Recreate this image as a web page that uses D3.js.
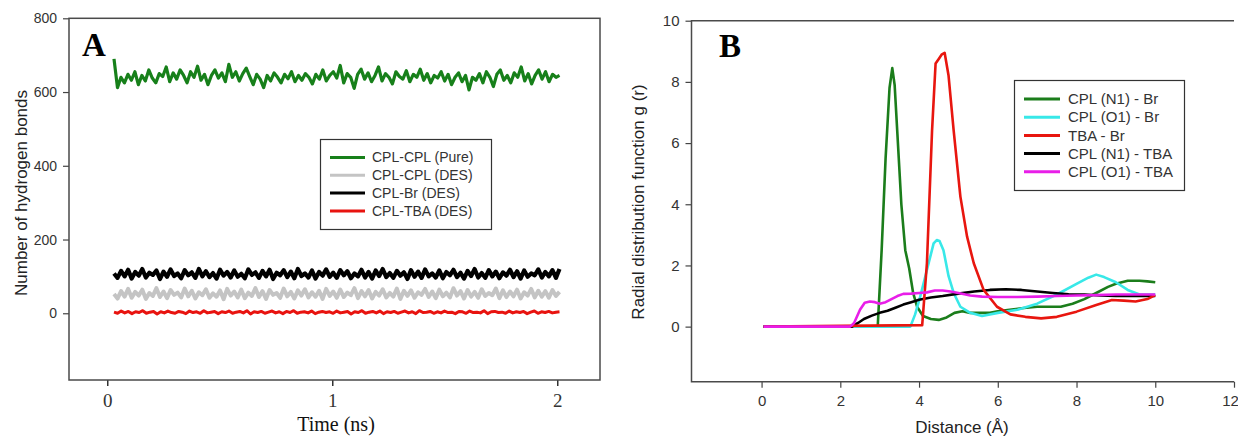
<html>
<head>
<script src="https://cdnjs.cloudflare.com/ajax/libs/d3/7.8.5/d3.min.js"></script>
<style>
  body { margin: 0; background: #fff; }
  svg { display: block; }
  .tick text { fill: #333; }
  .frame { fill: none; stroke: #4a4a4a; stroke-width: 1.5; }
  .series { fill: none; stroke-linejoin: round; }
</style>
</head>
<body>
<script>
// ---- panel A: hydrogen bonds vs time (ns) ----
var hbTimeStart = 0.03, hbTimeEnd = 2.01;
var hbTicksX = [0, 1, 2];
var hbTicksY = [0, 200, 400, 600, 800];

var hbPure = [690,612,640,625,648,632,655,620,645,630,660,638,625,650,642,668,628,652,635,660,645,625,655,640,670,632,648,620,645,660,638,652,628,675,640,655,630,650,665,642,620,648,635,612,645,630,652,640,625,648,636,655,628,645,632,650,640,622,648,635,660,630,645,655,638,672,625,650,640,610,648,662,635,652,628,645,668,630,650,640,622,655,642,635,658,628,648,640,662,632,650,625,645,638,655,630,648,620,640,652,628,645,606,640,632,650,625,655,640,615,648,660,632,645,625,652,640,668,630,650,622,645,660,635,655,628,648,640,645];
var hbCplDes = [52,40,60,45,66,42,58,48,64,39,55,47,68,44,59,41,63,50,56,43,67,46,61,40,57,49,65,42,54,45,62,38,66,48,59,43,64,41,56,47,68,44,60,39,63,50,55,42,67,46,58,40,62,48,65,43,57,45,61,39,66,47,59,42,64,44,56,49,68,41,60,46,63,40,58,48,65,43,55,45,67,39,61,47,62,42,57,50,66,44,59,41,64,46,56,43,68,48,60,40,63,45,58,42,65,47,55,49,67,41,62,44,59,46,64,40,57,48,66,43,61,45,60,42,63,47,58];
var hbBrDes = [108,96,115,100,118,94,112,102,120,97,110,104,116,93,113,99,119,101,108,95,117,103,111,96,120,100,114,98,109,94,118,102,112,97,116,99,107,95,119,104,111,96,115,100,118,93,110,103,117,98,113,95,120,101,108,97,116,94,112,102,119,99,110,96,117,103,114,95,108,100,118,97,112,94,116,101,120,98,109,96,115,102,111,93,117,99,113,96,119,100,108,97,116,95,112,103,118,98,110,94,115,101,120,97,109,96,117,100,113,95,111,102,118,98,114,94,116,99,108,103,119,97,112,100,117,96,120];
var hbTbaDes = [3,0,6,1,5,-1,4,2,7,0,3,5,-2,4,1,6,2,0,5,3,-1,6,2,4,0,7,1,3,5,-1,4,2,6,0,3,5,1,7,-2,4,2,5,0,3,6,1,4,-1,5,2,7,0,3,4,1,6,-1,3,5,2,4,0,6,1,3,5,-2,4,2,7,0,3,5,1,6,-1,4,2,5,0,3,6,1,4,-1,7,2,3,5,0,4,1,6,2,3,-1,5,4,0,6,2,3,1,7,-1,4,5,2,3,0,6,1,4,2,5,-1,3,6,0,4,2,5,1,3,4];

var hbNames = ["CPL-CPL (Pure)", "CPL-CPL (DES)", "CPL-Br (DES)", "CPL-TBA (DES)"];
var hbColors = ["#17801a", "#c4c4c4", "#000000", "#e8130f"];

// ---- panel B: radial distribution functions ----
var rdfTicksX = [0, 2, 4, 6, 8, 10, 12];
var rdfTicksY = [0, 2, 4, 6, 8, 10];

var n1BrR = [0.05,2.95,3.05,3.15,3.25,3.32,3.38,3.45,3.55,3.65,3.75,3.85,3.95,4.1,4.3,4.5,4.7,4.9,5.1,5.3,5.5,5.8,6.0,6.3,6.6,7.0,7.3,7.6,7.9,8.2,8.5,8.8,9.0,9.3,9.6,9.8,10.0];
var n1BrG = [0,0,2.5,5.5,7.8,8.45,7.9,6.3,4.0,2.5,1.9,1.1,0.65,0.35,0.25,0.22,0.3,0.45,0.5,0.45,0.45,0.45,0.5,0.55,0.6,0.65,0.65,0.65,0.75,0.9,1.1,1.3,1.4,1.5,1.5,1.48,1.45];
var o1BrR = [0.05,3.78,3.9,4.03,4.2,4.37,4.45,4.52,4.62,4.75,4.88,5.05,5.3,5.6,6.0,6.5,7.0,7.5,8.0,8.3,8.5,8.7,9.0,9.3,9.6,10.0];
var o1BrG = [0,0,0.4,0.98,1.85,2.72,2.83,2.8,2.5,1.65,1.1,0.65,0.45,0.35,0.45,0.55,0.75,1.05,1.4,1.6,1.7,1.62,1.45,1.2,1.05,1.05];
var tbaBrR = [0.05,4.08,4.2,4.33,4.42,4.5,4.58,4.65,4.75,4.88,5.05,5.22,5.39,5.64,5.98,6.32,6.7,7.1,7.5,8.0,8.5,8.9,9.2,9.5,9.8,10.0];
var tbaBrG = [0,0.05,2.07,6.4,8.6,8.75,8.9,8.95,8.2,6.4,4.25,2.94,2.07,1.2,0.65,0.4,0.32,0.27,0.32,0.49,0.71,0.87,0.85,0.82,0.9,1.03];
var n1TbaR = [0.05,2.3,2.45,2.6,2.8,3.0,3.2,3.4,3.6,3.8,4.0,4.3,4.6,5.0,5.4,5.8,6.2,6.6,7.0,7.4,7.8,8.2,8.6,9.0,9.5,10.0];
var n1TbaG = [0,0,0.12,0.25,0.36,0.45,0.52,0.62,0.72,0.8,0.88,0.95,1.0,1.08,1.15,1.2,1.22,1.2,1.15,1.1,1.06,1.05,1.02,1.0,1.0,1.0];
var o1TbaR = [0.05,2.25,2.35,2.5,2.62,2.75,2.88,3.0,3.15,3.3,3.45,3.6,3.8,4.0,4.2,4.4,4.6,4.8,5.0,5.3,5.6,6.0,6.5,7.0,7.5,8.0,8.5,9.0,9.5,10.0];
var o1TbaG = [0,0,0.12,0.55,0.78,0.82,0.8,0.75,0.8,0.9,1.0,1.07,1.08,1.1,1.12,1.18,1.18,1.15,1.1,1.02,0.98,0.97,0.97,0.98,1.0,1.02,1.03,1.05,1.05,1.05];

var rdfNames = ["CPL (N1) - Br", "CPL (O1) - Br", "TBA - Br", "CPL (N1) - TBA", "CPL (O1) - TBA"];
var rdfColors = ["#1b7d1b", "#38e8e8", "#e8160f", "#000000", "#e81ee8"];

var sans = "'Liberation Sans', Arial, sans-serif";
var serif = "'Liberation Serif', 'Times New Roman', serif";

var svg = d3.select("body").append("svg")
    .attr("width", 1238)
    .attr("height", 436);

// ================= panel A =================
var ax = d3.scaleLinear().domain([-0.17, 2.19]).range([69, 600]);
var ay = d3.scaleLinear().domain([-181, 800]).range([380, 18.3]);

var gA = svg.append("g");

gA.append("g")
    .attr("transform", "translate(0,380)")
    .call(d3.axisBottom(ax).tickValues(hbTicksX).tickFormat(d3.format("d")).tickSize(6))
    .call(function(g) {
      g.select(".domain").remove();
      g.selectAll(".tick line").attr("stroke", "#333").attr("stroke-width", 1.5);
      g.selectAll(".tick text").attr("font-family", serif).attr("font-size", 19).attr("fill", "#111")
        .attr("y", 27).attr("dy", 0);
    });

gA.append("g")
    .attr("transform", "translate(69,0)")
    .call(d3.axisLeft(ay).tickValues(hbTicksY).tickSize(6))
    .call(function(g) {
      g.select(".domain").remove();
      g.selectAll(".tick line").attr("stroke", "#444").attr("stroke-width", 1.2);
      g.selectAll(".tick text").attr("font-family", sans).attr("font-size", 14).attr("x", -12);
    });

var hbSeries = [hbPure, hbCplDes, hbBrDes, hbTbaDes];
var hbWidths = [3.2, 4, 4.2, 3];
[0, 1, 2, 3].forEach(function(k) {
  var vals = hbSeries[k];
  var n = vals.length;
  var pts = vals.map(function(v, i) {
    return [hbTimeStart + i * (hbTimeEnd - hbTimeStart) / (n - 1), v];
  });
  gA.append("path")
    .attr("class", "series")
    .attr("stroke", hbColors[k])
    .attr("stroke-width", hbWidths[k])
    .attr("d", d3.line().x(function(d) { return ax(d[0]); }).y(function(d) { return ay(d[1]); })(pts));
});

gA.append("rect").attr("class", "frame")
    .attr("x", 69).attr("y", 18.3).attr("width", 531).attr("height", 361.7);

gA.append("text").text("A")
    .attr("x", 82).attr("y", 56)
    .attr("font-family", serif).attr("font-weight", "bold").attr("font-size", 33);

gA.append("text").text("Time (ns)")
    .attr("x", 336).attr("y", 431)
    .attr("text-anchor", "middle")
    .attr("font-family", serif).attr("font-size", 20).attr("fill", "#111");

gA.append("text").text("Number of hydrogen bonds")
    .attr("transform", "translate(27,193) rotate(-90)")
    .attr("text-anchor", "middle")
    .attr("font-family", sans).attr("font-size", 17).attr("fill", "#222");

// legend A
var legA = gA.append("g");
legA.append("rect")
    .attr("x", 320.5).attr("y", 139.5).attr("width", 171).attr("height", 90)
    .attr("fill", "#fff").attr("stroke", "#333").attr("stroke-width", 1.2);
hbNames.forEach(function(name, i) {
  var y = 157.5 + i * 17.8;
  legA.append("line")
      .attr("x1", 330).attr("x2", 365).attr("y1", y).attr("y2", y)
      .attr("stroke", hbColors[i]).attr("stroke-width", 3);
  legA.append("text").text(name)
      .attr("x", 372).attr("y", y).attr("dy", "0.35em")
      .attr("font-family", sans).attr("font-size", 14).attr("fill", "#333");
});

// ================= panel B =================
var bx = d3.scaleLinear().domain([-1.78, 12]).range([691.5, 1234]);
var by = d3.scaleLinear().domain([-1.8, 10]).range([381.7, 20.7]);

var gB = svg.append("g");

gB.append("g")
    .attr("transform", "translate(0,381.7)")
    .call(d3.axisBottom(bx).tickValues(rdfTicksX).tickSize(6))
    .call(function(g) {
      g.select(".domain").remove();
      g.selectAll(".tick line").attr("stroke", "#444").attr("stroke-width", 1.2);
      g.selectAll(".tick text").attr("font-family", sans).attr("font-size", 15).attr("dy", "1.05em");
      // last label sits at the picture's right edge
      g.selectAll(".tick text").filter(function(d) { return d === 12; }).attr("x", -4);
    });

gB.append("g")
    .attr("transform", "translate(691.5,0)")
    .call(d3.axisLeft(by).tickValues(rdfTicksY).tickSize(6))
    .call(function(g) {
      g.select(".domain").remove();
      g.selectAll(".tick line").attr("stroke", "#444").attr("stroke-width", 1.2);
      g.selectAll(".tick text").attr("font-family", sans).attr("font-size", 15).attr("x", -12);
    });

var rdfR = [n1BrR, o1BrR, tbaBrR, n1TbaR, o1TbaR];
var rdfG = [n1BrG, o1BrG, tbaBrG, n1TbaG, o1TbaG];
[0, 1, 3, 2, 4].forEach(function(k) {
  var pts = rdfR[k].map(function(r, i) { return [r, rdfG[k][i]]; });
  gB.append("path")
    .attr("class", "series")
    .attr("stroke", rdfColors[k])
    .attr("stroke-width", 2.6)
    .attr("d", d3.line().x(function(d) { return bx(d[0]); }).y(function(d) { return by(d[1]); })(pts));
});

gB.append("path").attr("class", "frame")
    .attr("d", "M1234,20.7H691.5V381.7H1234");

gB.append("text").text("B")
    .attr("x", 719).attr("y", 57)
    .attr("font-family", serif).attr("font-weight", "bold").attr("font-size", 33);

gB.append("text").text("Distance (Å)")
    .attr("x", 962).attr("y", 433)
    .attr("text-anchor", "middle")
    .attr("font-family", sans).attr("font-size", 17).attr("fill", "#222");

gB.append("text").text("Radial distribution function g (r)")
    .attr("transform", "translate(644,202) rotate(-90)")
    .attr("text-anchor", "middle")
    .attr("font-family", sans).attr("font-size", 17).attr("fill", "#222");

// legend B
var legB = gB.append("g");
legB.append("rect")
    .attr("x", 1014.5).attr("y", 80.5).attr("width", 170).attr("height", 110)
    .attr("fill", "#fff").attr("stroke", "#333").attr("stroke-width", 1.2);
rdfNames.forEach(function(name, i) {
  var y = 99 + i * 18.2;
  legB.append("line")
      .attr("x1", 1024).attr("x2", 1060).attr("y1", y).attr("y2", y)
      .attr("stroke", rdfColors[i]).attr("stroke-width", 3);
  legB.append("text").text(name)
      .attr("x", 1068).attr("y", y).attr("dy", "0.35em")
      .attr("font-family", sans).attr("font-size", 15).attr("fill", "#333");
});
</script>
</body>
</html>
